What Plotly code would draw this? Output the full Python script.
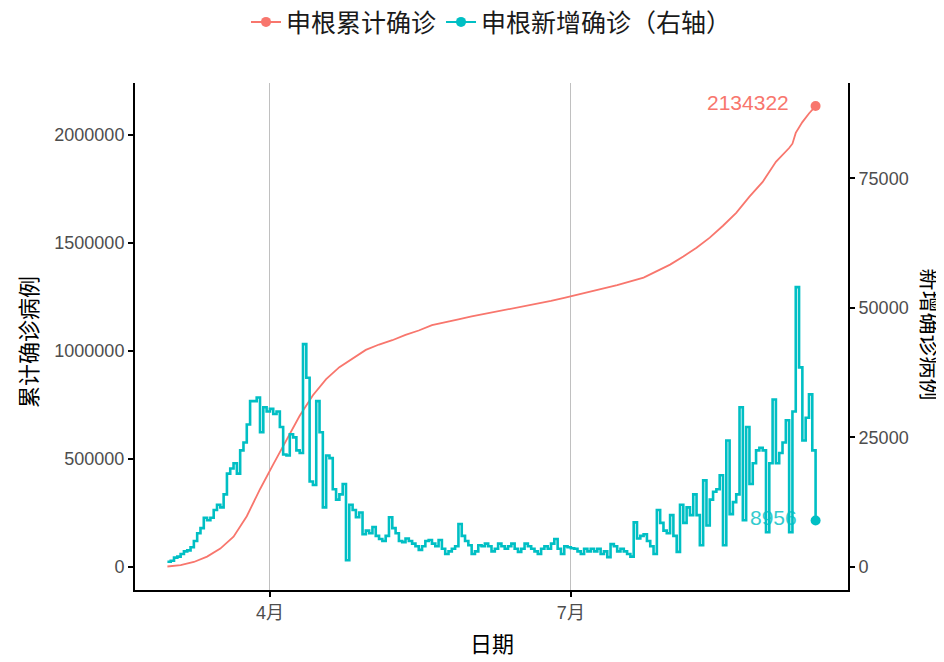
import plotly.graph_objects as go
import pandas as pd

# ---------------- data ----------------
start_date = "2022-03-01"
# daily new confirmed (thousands), one per day from Mar 1 to Sep 13
daily_k = [
    1.0, 1.2, 1.8, 2.0, 2.5, 3.0, 3.2, 3.8, 5.0, 6.5,
    7.5, 9.5, 9.0, 9.5, 11.0, 12.0, 11.5, 14.0, 18.0, 19.0,
    20.0, 18.0, 22.5, 24.0, 27.5, 32.0, 32.0, 32.7, 26.0, 30.8,
    30.0, 30.5, 29.5, 30.0, 27.0, 21.7, 21.5, 25.6, 25.0, 22.5,
    22.0, 43.0, 36.5, 16.5, 15.8, 32.0, 26.0, 11.5, 21.5, 21.0,
    15.0, 13.0, 14.0, 16.0, 1.3, 12.0, 11.0, 9.6, 10.5, 6.3,
    7.0, 6.5, 7.7, 6.0, 5.4, 5.0, 6.0, 9.6, 7.5, 6.5,
    5.0, 4.8, 5.5, 5.0, 4.5, 4.0, 3.3, 4.0, 5.0, 5.2,
    4.5, 4.0, 5.2, 3.5, 2.5, 3.0, 3.5, 4.0, 8.3, 6.0,
    5.0, 4.2, 2.5, 3.0, 4.2, 4.0, 4.5, 4.0, 3.0, 3.5,
    4.5, 4.0, 3.5, 4.0, 4.5, 3.5, 2.9, 3.5, 4.5, 4.0,
    3.5, 3.0, 2.5, 3.5, 4.0, 3.5, 4.5, 5.4, 3.5, 2.5,
    4.0, 3.8, 3.6, 3.5, 3.0, 2.5, 3.5, 3.0, 3.5, 3.0,
    3.5, 2.5, 3.0, 1.9, 4.4, 4.0, 3.0, 3.5, 3.0, 2.5,
    2.0, 8.6, 5.5, 6.0, 6.3, 5.0, 4.0, 2.5, 11.0, 8.5,
    7.0, 6.5, 10.0, 6.0, 2.9, 12.0, 8.5, 11.5, 10.0, 14.0,
    10.0, 4.2, 16.7, 8.0, 13.0, 14.5, 15.0, 17.7, 4.2, 24.4,
    10.2, 12.5, 14.0, 30.8, 9.0, 27.0, 16.0, 20.0, 22.5, 23.0,
    22.5, 6.7, 20.0, 32.3, 20.0, 22.0, 24.0, 28.3, 6.7, 30.0,
    54.0, 38.5, 24.4, 28.8, 33.3, 22.5, 8.956,
]
# cumulative confirmed (thousands) read at sampled day offsets from Mar 1
cum_days = [0, 4, 8, 12, 16, 20, 24, 28, 32, 36, 40, 44, 48, 52, 56, 60,
            64, 68, 72, 76, 80, 84, 88, 92, 96, 100, 104, 108, 112, 116, 120,
            124, 128, 132, 136, 140, 144, 148, 152, 156, 160, 164, 168, 172,
            176, 180, 184, 188, 189, 190, 192, 194, 196]
cum_k = [2, 8, 23, 48, 85, 140, 235, 360, 475, 585, 700, 795, 870, 925, 965, 1005,
         1030, 1050, 1075, 1095, 1120, 1135, 1147, 1160, 1172, 1184, 1195, 1206, 1218, 1232, 1246,
         1260, 1275, 1290, 1305, 1322, 1340, 1370, 1400, 1438, 1478, 1525, 1580, 1640,
         1715, 1783, 1876, 1940, 1960, 2010, 2060, 2100, 2134.322]
tick_dates = ["2022-04-01", "2022-07-01"]
tick_labels = ["4月", "7月"]
name_cum = "申根累计确诊"
name_new = "申根新增确诊（右轴）"

RED = "#F8766D"
GREEN = "#00BFC4"
FONT = "Liberation Sans, Noto Sans CJK SC, sans-serif"

base = pd.Timestamp(start_date)
daily_dates = [base + pd.Timedelta(days=i) for i in range(len(daily_k))]
daily_vals = [round(v * 1000) for v in daily_k]
cum_dates = [base + pd.Timedelta(days=d) for d in cum_days]
cum_vals = [round(v * 1000) for v in cum_k]

ratio = 24.0
ymin = -cum_vals[-1] * 0.05
ymax = cum_vals[-1] * 1.05
span_days = (daily_dates[-1] - daily_dates[0]).days
pad = pd.Timedelta(days=span_days * 0.05)

fig = go.Figure()
fig.add_trace(go.Scatter(x=cum_dates, y=cum_vals, mode="lines",
                         line=dict(color=RED, width=1.8), showlegend=False,
                         legendgroup="a", hoverinfo="skip"))
fig.add_trace(go.Scatter(x=daily_dates, y=daily_vals, mode="lines", yaxis="y2",
                         line=dict(color=GREEN, width=2.6, shape="hv"),
                         showlegend=False, legendgroup="b", hoverinfo="skip"))
fig.add_trace(go.Scatter(x=[cum_dates[-1]], y=[cum_vals[-1]], mode="lines+markers",
                         name=name_cum, legendgroup="a",
                         line=dict(color=RED, width=2),
                         marker=dict(color=RED, size=10)))
fig.add_trace(go.Scatter(x=[daily_dates[-1]], y=[daily_vals[-1]], mode="lines+markers",
                         yaxis="y2", name=name_new, legendgroup="b",
                         line=dict(color=GREEN, width=2),
                         marker=dict(color=GREEN, size=10)))

fig.add_annotation(x=cum_dates[-1], y=cum_vals[-1], text=str(cum_vals[-1]),
                   showarrow=False, xanchor="right", yanchor="middle", xshift=-25, yshift=4,
                   font=dict(color=RED, size=21, family=FONT))
fig.add_annotation(x=daily_dates[-1], y=daily_vals[-1], yref="y2", text=str(daily_vals[-1]),
                   showarrow=False, xanchor="right", yanchor="middle", xshift=-17, yshift=3,
                   font=dict(color=GREEN, size=21, family=FONT), opacity=0.8)

# axis titles
fig.add_annotation(x=0.5, y=-0.108, xref="paper", yref="paper", text="日期",
                   xanchor="center", yanchor="middle",
                   showarrow=False, font=dict(size=22, color="black", family=FONT))
fig.add_annotation(x=-0.148, y=0.49, xref="paper", yref="paper", text="累计确诊病例",
                   xanchor="center", yanchor="middle",
                   textangle=-90, showarrow=False, font=dict(size=22, color="black", family=FONT))
fig.add_annotation(x=1.113, y=0.505, xref="paper", yref="paper", text="新增确诊病例",
                   xanchor="center", yanchor="middle",
                   textangle=90, showarrow=False, font=dict(size=22, color="black", family=FONT))

axis_common = dict(showline=True, linecolor="black", linewidth=2, ticks="outside",
                   ticklen=5, tickwidth=1.5, tickcolor="black",
                   tickfont=dict(size=18, color="#4d4d4d", family=FONT), zeroline=False,
                   automargin=False)

fig.update_layout(
    width=936, height=654,
    margin=dict(l=127, r=96, t=75, b=72, autoexpand=False),
    paper_bgcolor="white", plot_bgcolor="white",
    font=dict(family=FONT),
    xaxis=dict(type="date", range=[daily_dates[0] - pad, daily_dates[-1] + pad],
               tickvals=tick_dates, ticktext=tick_labels, showgrid=True,
               gridcolor="#c0c0c0", gridwidth=1, **axis_common),
    yaxis=dict(range=[ymin, ymax], tickvals=[0, 500000, 1000000, 1500000, 2000000],
               ticktext=["0", "500000", "1000000", "1500000", "2000000"],
               showgrid=False, **axis_common),
    yaxis2=dict(range=[ymin / ratio, ymax / ratio], overlaying="y", side="right",
                tickvals=[0, 25000, 50000, 75000],
                ticktext=["0", "25000", "50000", "75000"],
                showgrid=False, **axis_common),
    legend=dict(orientation="h", x=0.5, xanchor="center", y=1.12, yanchor="middle",
                font=dict(size=25, color="#1a1a1a", family=FONT), itemwidth=30,
                bgcolor="rgba(0,0,0,0)"),
    showlegend=True,
)

fig.write_html("out.html")
